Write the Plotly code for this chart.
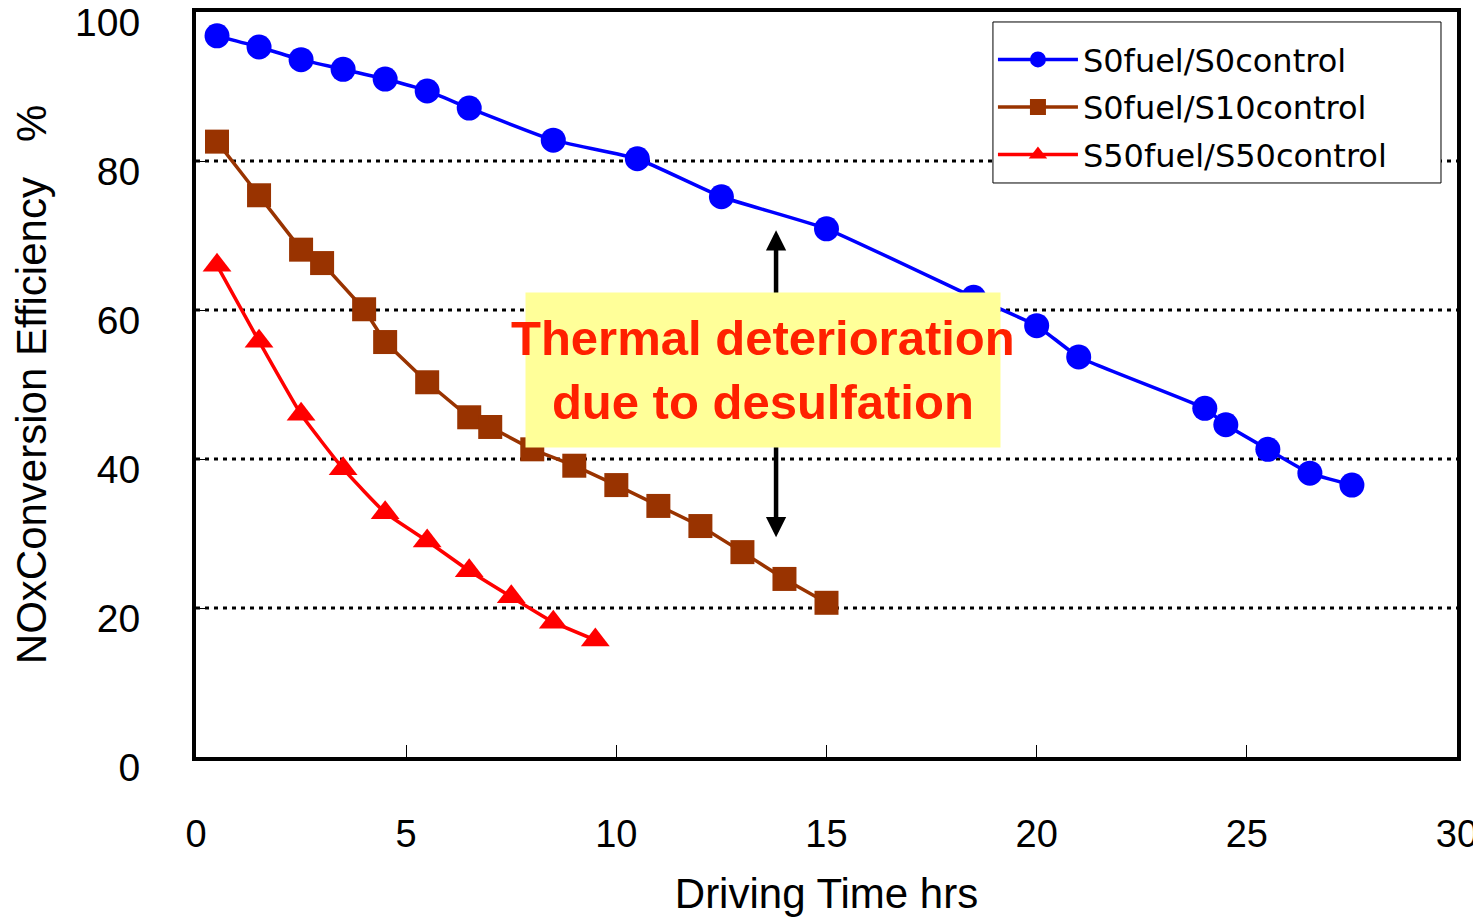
import plotly.graph_objects as go

# ---- data ----
blue_x = [0.5, 1.5, 2.5, 3.5, 4.5, 5.5, 6.5, 8.5, 10.5, 12.5, 15, 18.5, 20, 21, 24, 24.5, 25.5, 26.5, 27.5]
blue_y = [96.8, 95.3, 93.6, 92.3, 91.0, 89.4, 87.1, 82.8, 80.3, 75.2, 70.9, 61.7, 57.9, 53.7, 46.8, 44.6, 41.3, 38.1, 36.5]

brown_x = [0.5, 1.5, 2.5, 3, 4, 4.5, 5.5, 6.5, 7, 8, 9, 10, 11, 12, 13, 14, 15]
brown_y = [82.6, 75.4, 68.1, 66.3, 60.1, 55.7, 50.3, 45.6, 44.3, 41.3, 39.1, 36.5, 33.7, 31.0, 27.5, 23.9, 20.7]

red_x = [0.5, 1.5, 2.5, 3.5, 4.5, 5.5, 6.5, 7.5, 8.5, 9.5]
red_y = [66.0, 55.8, 46.0, 38.7, 32.8, 29.0, 25.0, 21.5, 18.1, 15.7]

series_names = ["S0fuel/S0control", "S0fuel/S10control", "S50fuel/S50control"]
x_ticks = [0, 5, 10, 15, 20, 25, 30]
y_ticks = [0, 20, 40, 60, 80, 100]
grid_levels = [20, 40, 60, 80]

arrow_x = 13.8
arrow_mid = 50
arrow_top = 70.7
arrow_bottom = 29.5
note_x = 13.5
note_y = 51.9

fig = go.Figure()

# dotted gridlines
for g in grid_levels:
    fig.add_shape(type="line", xref="x", yref="y", x0=0, x1=30, y0=g, y1=g,
                  line=dict(color="black", width=3, dash="4px,5px"), layer="below")

# legend frame (white box with thin border, larger than plotly's own legend box)
fig.add_shape(type="rect", xref="paper", yref="paper", x0=0.632, x1=0.9873, y0=0.7705, y1=0.9866,
              line=dict(color="black", width=1), fillcolor="white", layer="above")

fig.add_trace(go.Scatter(x=blue_x, y=blue_y, name=series_names[0], mode="lines+markers",
                         legendgroup="a",
                         line=dict(color="#0000FF", width=3.5, shape="spline", smoothing=0.4),
                         marker=dict(symbol="circle", size=25, color="#0000FF")))
fig.add_trace(go.Scatter(x=brown_x, y=brown_y, name=series_names[1], mode="lines+markers",
                         legendgroup="b",
                         line=dict(color="#993300", width=3.5),
                         marker=dict(symbol="square", size=24, color="#993300")))
fig.add_trace(go.Scatter(x=red_x, y=red_y, name=series_names[2], mode="lines+markers",
                         legendgroup="c",
                         line=dict(color="#FF0000", width=3.5, shape="spline", smoothing=0.4),
                         marker=dict(symbol="triangle-up", size=25, color="#FF0000")))

# double arrow (two annotations), then the yellow box and the label on top
for tip in (arrow_top, arrow_bottom):
    fig.add_annotation(x=arrow_x, y=tip, ax=arrow_x, ay=arrow_mid, xref="x", yref="y",
                       axref="x", ayref="y", text="", showarrow=True,
                       arrowhead=2, arrowsize=0.9, arrowwidth=4.5, arrowcolor="black")

fig.add_annotation(x=note_x, y=note_y, xref="x", yref="y", showarrow=False,
                   text="&nbsp;", bgcolor="#FFFF99", width=474, height=154, borderpad=0)

fig.add_annotation(x=note_x, y=note_y, xref="x", yref="y", showarrow=False,
                   text="Thermal deterioration<br>due to desulfation",
                   font=dict(family="Liberation Sans, Arial", size=49, color="#FF2000", weight="bold"),
                   align="center")

axis_font = dict(family="Liberation Sans Narrow, Liberation Sans, Arial", size=42, color="black")

# page body has an 8px margin, so the figure is 8px smaller than the window
fig.update_layout(
    width=1473, height=909,
    margin=dict(l=188, r=24, t=4, b=160, autoexpand=False),
    paper_bgcolor="white", plot_bgcolor="white",
    showlegend=True,
    legend=dict(x=0.632, y=0.973, xanchor="left", yanchor="top",
                bgcolor="rgba(0,0,0,0)", borderwidth=0,
                font=dict(family="DejaVu Sans", size=32, color="black"),
                itemwidth=80, tracegroupgap=3),
    xaxis=dict(range=[0, 30], tickvals=x_ticks, ticks="inside", ticklen=12, tickcolor="black",
               tickwidth=1, showgrid=False, zeroline=False, automargin=False,
               showline=True, mirror=True, linecolor="black", linewidth=4,
               ticklabelstandoff=40, ticklabeloverflow="allow",
               tickfont=dict(family="Liberation Sans Narrow, Liberation Sans, Arial", size=38, color="black"),
               title=dict(text="Driving Time hrs", font=axis_font, standoff=28)),
    yaxis=dict(range=[0, 100], tickvals=y_ticks, ticks="inside", ticklen=12, tickcolor="black",
               tickwidth=1, showgrid=False, zeroline=False, automargin=False,
               showline=True, mirror=True, linecolor="black", linewidth=4,
               ticklabelstandoff=44, ticklabelshift=10, ticklabeloverflow="allow",
               tickfont=dict(family="Liberation Sans, Arial", size=39, color="black"),
               title=dict(text="NOxConversion Efficiency   %", font=axis_font, standoff=37)),
)

fig.write_html("out.html")
